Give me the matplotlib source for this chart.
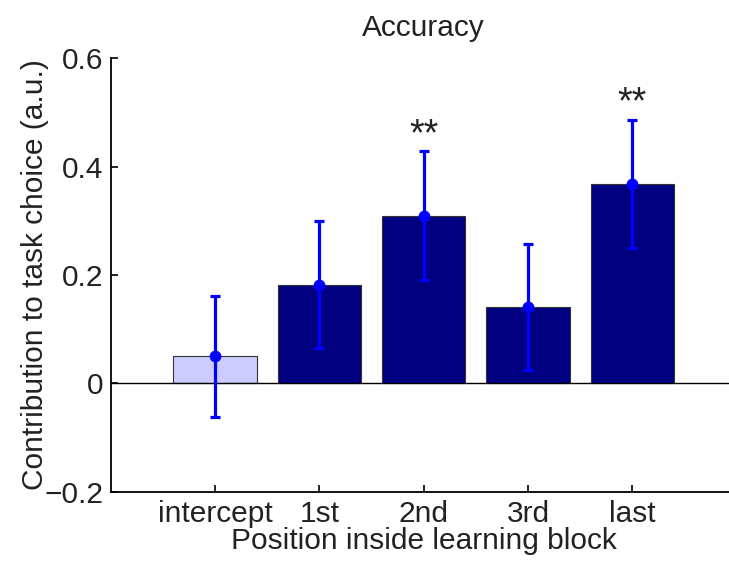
import matplotlib
matplotlib.use("Agg")
import matplotlib.pyplot as plt

categories = ["intercept", "1st", "2nd", "3rd", "last"]
values = [0.050, 0.182, 0.309, 0.141, 0.368]
errors = [0.112, 0.117, 0.119, 0.117, 0.118]
stars = ["", "", "**", "", "**"]
bar_colors = ["#ccccff", "#000080", "#000080", "#000080", "#000080"]

plt.rcParams['font.family'] = ['Liberation Sans', 'DejaVu Sans']

fig = plt.figure(figsize=(7.29, 5.61), dpi=100)
ax = fig.add_axes([0.1518, 0.123, 0.8587, 0.7736])

x = list(range(1, len(categories) + 1))
ax.bar(x, values, width=0.8, color=bar_colors, edgecolor="#333333", linewidth=0.8, zorder=2)
ax.axhline(0, color="black", linewidth=1.0, zorder=3)
ax.errorbar(x, values, yerr=errors, fmt="o", color="#0000ff", ecolor="#0000ff",
            elinewidth=2.3, capsize=3.5, capthick=2.3, markersize=7.5, zorder=4)
for xi, v, e, s in zip(x, values, errors, stars):
    if s:
        ax.text(xi, v + e + 0.030, s, ha="center", va="center", fontsize=27,
                color="#222222")

ax.set_xlim(0, 6)
ax.set_ylim(-0.2, 0.6)
ax.set_xticks(x)
ax.set_xticklabels(categories)
ax.set_yticks([-0.2, 0, 0.2, 0.4, 0.6])
ax.set_yticklabels(["\u22120.2", "0", "0.2", "0.4", "0.6"])
ax.tick_params(direction="in", length=5, width=1.2, labelsize=21.5, colors="black",
               labelcolor="#222222")
ax.tick_params(axis="x", pad=6)
ax.tick_params(axis="y", pad=5)
ax.spines["top"].set_visible(False)
ax.spines["right"].set_visible(False)
ax.spines["left"].set_linewidth(1.3)
ax.spines["bottom"].set_linewidth(1.3)
ax.set_xlabel("Position inside learning block", fontsize=21.5, color="#222222", labelpad=-1)
ax.set_ylabel("Contribution to task choice (a.u.)", fontsize=21.5, color="#222222", labelpad=-3)
ax.set_title("Accuracy", fontsize=21.5, color="#222222", pad=16)

fig.savefig("out.png", dpi=100)
